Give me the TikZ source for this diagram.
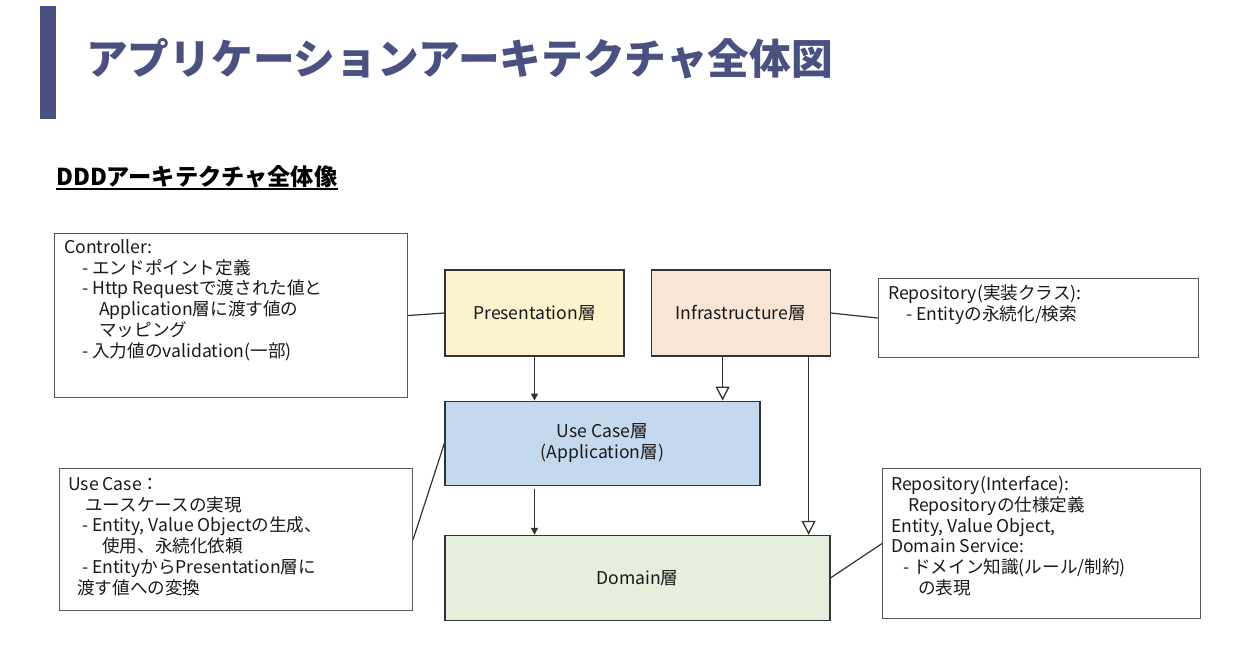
\documentclass[tikz,border=0pt]{standalone}
\usepackage{fontspec}
\setmainfont{Noto Sans CJK JP}
\usetikzlibrary{positioning,arrows.meta,calc}

\definecolor{titleblue}{RGB}{74,80,128}
\definecolor{presfill}{RGB}{253,242,206}
\definecolor{infrafill}{RGB}{248,229,214}
\definecolor{ucfill}{RGB}{197,217,238}
\definecolor{domfill}{RGB}{229,239,219}
\newcommand\boxfont{\fontsize{17.6}{20.8}\selectfont}

\tikzset{
  layer/.style={draw=black!80, line width=1.2pt, text=black!90, font=\boxfont, inner sep=0pt, align=center},
  notebox/.style={draw=black!65, line width=1.1pt, inner sep=0pt, anchor=north west},
  notetext/.style={anchor=north west, align=left, inner sep=0pt, font=\boxfont, text=black!90},
  dep/.style={draw=black!80, line width=1.3pt, -{Triangle[length=7pt,width=7pt]}},
  impl/.style={draw=black!80, line width=1.3pt, -{Triangle[open,length=14pt,width=14pt,fill=white]}},
  link/.style={draw=black!80, line width=1.2pt}
}

\begin{document}
\begin{tikzpicture}[x=1pt,y=-1pt]
\useasboundingbox (0,0) rectangle (1259,668);

% heading
\fill[titleblue] (40,6) rectangle (56,119);
\node[anchor=west, inner sep=0pt, text=titleblue, font=\fontsize{41.7}{48}\selectfont\bfseries] (title) at (86,59) {アプリケーションアーキテクチャ全体図};
\node[anchor=west, inner sep=0pt, font=\fontsize{23.2}{28}\selectfont\bfseries] (sub) at (56,177) {DDDアーキテクチャ全体像};
\draw[line width=2pt] ([yshift=-1pt]sub.south west) -- ([yshift=-1pt]sub.south east);

% layers
\node[layer, fill=presfill, minimum width=179pt, minimum height=86pt] (pres) at (534.5,313) {Presentation層};
\node[layer, fill=infrafill, minimum width=179pt, minimum height=86pt, right=26pt of pres] (infra) {Infrastructure層};
\node[layer, fill=ucfill, minimum width=315pt, minimum height=84pt, below=44pt of pres.south west, anchor=north west] (uc) {Use Case層\\(Application層)};
\node[layer, fill=domfill, minimum width=385pt, minimum height=85pt, below=49pt of uc.south west, anchor=north west] (dom) {Domain層};

% notes
\node[notebox, minimum width=353pt, minimum height=164pt] (ctrl) at (54,233) {};
\node[notetext] (ctrltext) at ($(ctrl.north west)+(10,6)$) {Controller:\\
\hspace*{18pt}- エンドポイント定義\\
\hspace*{18pt}- Http Requestで渡された値と\\
\hspace*{35pt}Application層に渡す値の\\
\hspace*{35pt}マッピング\\
\hspace*{18pt}- 入力値のvalidation(一部)};

\node[notebox, minimum width=353pt, minimum height=142pt] (ucnote) at (59,468) {};
\node[notetext] (ucnotetext) at ($(ucnote.north west)+(9,9)$) {Use Case：\\
\hspace*{17pt}ユースケースの実現\\
\hspace*{14pt}- Entity, Value Objectの生成、\\
\hspace*{34pt}使用、永続化依頼\\
\hspace*{14pt}- EntityからPresentation層に\\
\hspace*{9pt}渡す値への変換};

\node[notebox, minimum width=320pt, minimum height=79pt] (repoimpl) at (878,278) {};
\node[notetext] (repoimpltext) at ($(repoimpl.north west)+(10,7)$) {Repository(実装クラス):\\
\hspace*{18pt}- Entityの永続化/検索};

\node[notebox, minimum width=318pt, minimum height=150pt] (repoif) at (882,468) {};
\node[notetext] (repoiftext) at ($(repoif.north west)+(9,8)$) {Repository(Interface):\\
\hspace*{17pt}Repositoryの仕様定義\\
Entity, Value Object,\\
Domain Service:\\
\hspace*{12pt}- ドメイン知識(ルール/制約)\\
\hspace*{27pt}の表現};

% dependencies
\draw[dep] (pres.south) -- (pres.south |- uc.north);
\draw[dep] (pres.south |- uc.south) ++(0,3) -- (pres.south |- dom.north);
\coordinate (ia) at ($(infra.south west)+(72,0)$);
\coordinate (ib) at ($(infra.south west)+(158,0)$);
\draw[impl] (ia) -- (ia |- uc.north);
\draw[impl] (ib) -- (ib |- dom.north);

% note links
\draw[link] (ctrl.east) -- (pres.west);
\draw[link] (infra.east) -- (repoimpl.west);
\draw[link] (ucnote.east) -- (uc.west);
\draw[link] (dom.east) -- (repoif.west);
\end{tikzpicture}
\end{document}
